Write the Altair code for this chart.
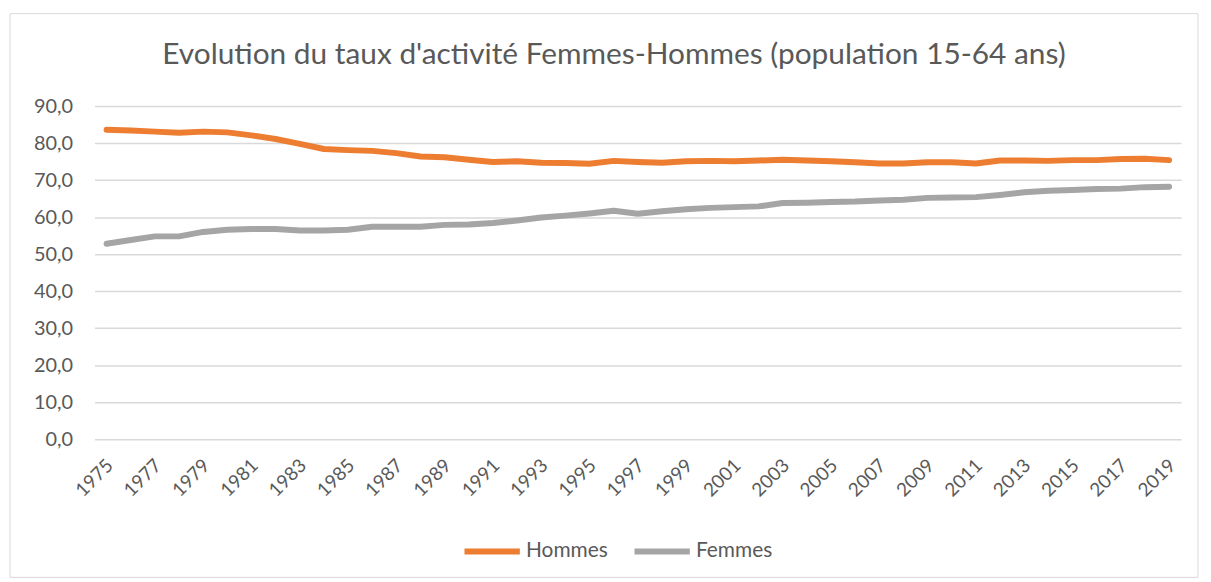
import altair as alt
import pandas as pd

years = list(range(1975, 2020))
hommes = [83.6, 83.4, 83.1, 82.8, 83.1, 82.9, 82.1, 81.1, 79.8, 78.4,
          78.1, 77.9, 77.3, 76.4, 76.2, 75.5, 74.9, 75.1, 74.7, 74.6,
          74.4, 75.2, 74.9, 74.7, 75.1, 75.2, 75.1, 75.3, 75.5, 75.3,
          75.1, 74.8, 74.5, 74.5, 74.8, 74.8, 74.5, 75.3, 75.3, 75.2,
          75.4, 75.4, 75.7, 75.8, 75.4]
femmes = [52.8, 53.8, 54.8, 54.8, 56.0, 56.6, 56.8, 56.8, 56.4, 56.4,
          56.6, 57.4, 57.4, 57.4, 57.9, 58.0, 58.4, 59.1, 59.9, 60.4,
          61.0, 61.7, 60.9, 61.6, 62.1, 62.5, 62.7, 62.9, 63.8, 63.9,
          64.1, 64.2, 64.5, 64.7, 65.2, 65.3, 65.4, 66.0, 66.7, 67.1,
          67.3, 67.6, 67.7, 68.1, 68.2]
series = ["Hommes", "Femmes"]
colors = ["#ED7D31", "#A5A5A5"]
title = "Evolution du taux d'activité Femmes-Hommes (population 15-64 ans)"
y_ticks = [0, 10, 20, 30, 40, 50, 60, 70, 80, 90]
x_ticks = list(range(1975, 2020, 2))

df = pd.DataFrame({
    "annee": years * 2,
    "taux": hommes + femmes,
    "serie": ["Hommes"] * len(years) + ["Femmes"] * len(years),
})

FONT = "Lato"
TXT = "#595959"
W, H = 1093, 335

frame = alt.Chart(pd.DataFrame({"a": [0]})).mark_rect(
    fill="transparent", stroke="#D9D9D9", strokeWidth=1
).encode(
    x=alt.value(-85), x2=alt.value(1110), y=alt.value(-93), y2=alt.value(474)
)

lines = alt.Chart(df).mark_line(strokeWidth=6, strokeCap="round", strokeJoin="round").encode(
    x=alt.X("annee:Q",
            scale=alt.Scale(domain=[1974.5, 2019.5], nice=False, zero=False),
            axis=alt.Axis(values=x_ticks, format="d", labelAngle=-45, labelAlign="right",
                          labelBaseline="middle", labelPadding=23, labelOffset=3,
                          grid=False, ticks=False,
                          domain=False, title=None, labelFont=FONT, labelFontSize=19,
                          labelColor=TXT, labelOverlap=False)),
    y=alt.Y("taux:Q",
            scale=alt.Scale(domain=[0, 90], nice=False),
            axis=alt.Axis(values=y_ticks, labelExpr="replace(format(datum.value, '.1f'), '.', ',')",
                          grid=True, gridColor="#D9D9D9", gridWidth=1.5, ticks=False,
                          domain=False, title=None, labelFont=FONT, labelFontSize=20,
                          labelColor=TXT, labelPadding=22)),
    color=alt.Color("serie:N",
                    scale=alt.Scale(domain=series, range=colors),
                    sort=series,
                    legend=alt.Legend(title=None, orient="none", legendX=369, legendY=417,
                                      direction="horizontal", symbolType="stroke",
                                      symbolSize=3100, symbolStrokeWidth=6,
                                      labelFont=FONT, labelFontSize=21, labelColor=TXT,
                                      labelOffset=3, columnPadding=14)),
    detail="serie:N",
)

chart = alt.layer(frame, lines).properties(
    width=W, height=H,
    autosize=alt.AutoSizeParams(type="none"),
    padding={"left": 87, "top": 97, "right": 22, "bottom": 140},
    title=alt.TitleParams(title, font=FONT, fontSize=30, fontWeight="normal", color=TXT,
                          anchor="middle", frame="group", dx=-24, offset=-81,
                          baseline="alphabetic"),
).configure_view(stroke=None)

chart.save("out.html", embed_options={"renderer": "svg", "actions": False})
